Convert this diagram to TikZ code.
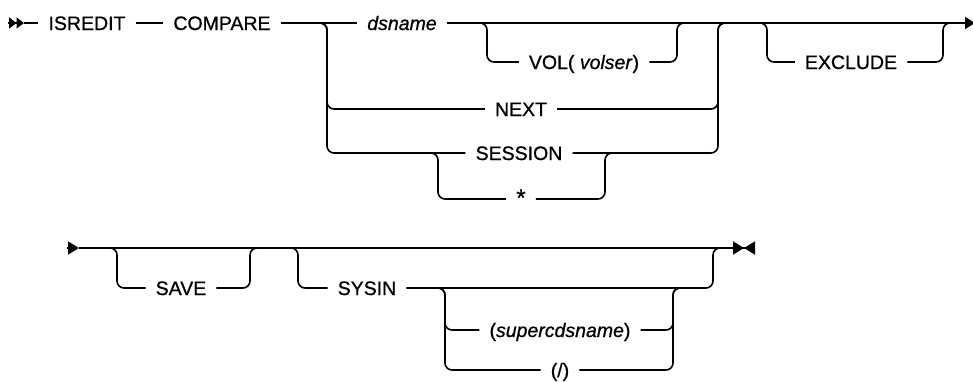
\documentclass[tikz,border=0pt]{standalone}
\usepackage{fontspec}
\setmainfont{Liberation Sans}[FakeBold=0.8]
\usetikzlibrary{arrows.meta}
\newcommand{\cmdfont}{\fontsize{19.5}{23}\selectfont}
\tikzset{
  cmd rail/.style={line width=1.6pt,rounded corners=7pt},
  cmd kw/.style={inner xsep=10pt,inner ysep=0pt,text height=14pt,text depth=0pt,font=\cmdfont},
  cmd var/.style={cmd kw,font=\cmdfont\itshape},
  cmd tip/.tip={Triangle[length=10pt,width=12pt]}
}

\begin{document}
\begin{tikzpicture}[x=1pt,y=-1pt]
  \useasboundingbox (0,0) rectangle (973,381);
  % first line
  \coordinate (r1s) at (8,23);
  \coordinate (r1a) at (24,23);
  \coordinate (r1e) at (975,23);
  \node[cmd kw] (isredit) at (87,23) {ISREDIT};
  \node[cmd kw] (compare) at (222,23) {COMPARE};
  \node[cmd var] (dsname) at (402,23) {dsname};
  \node[cmd kw] (vol) at (584,62) {VOL( \textit{volser})};
  \node[cmd kw] (next) at (521,109) {NEXT};
  \node[cmd kw] (session) at (519,153) {SESSION};
  \node[cmd kw,font=\fontsize{24}{26}\selectfont] (star) at (521,199) {*};
  \node[cmd kw] (exclude) at (851,62) {EXCLUDE};
  \coordinate (g1l) at (327,23);
  \coordinate (g1r) at (718,23);
  \coordinate (vl) at (487,23);
  \coordinate (vr) at (677,23);
  \coordinate (sl) at (438,153);
  \coordinate (sr) at (605,153);
  \coordinate (xl) at (767,23);
  \coordinate (xr) at (943,23);
  \draw[cmd rail,-{Triangle[length=7.5pt,width=11pt]Triangle[length=7.5pt,width=11pt]}] (r1s) -- (r1a);
  \draw[cmd rail] (r1a) -- (isredit) (isredit) -- (compare) (compare) -- (dsname);
  \draw[cmd rail,-{cmd tip}] (dsname) -- (r1e);
  \draw[cmd rail] (vol) -| (vl) -- ++(-10,0) (vol) -| (vr) -- ++(10,0);
  \draw[cmd rail] (next) -| (g1l) -- ++(-10,0) (next) -| (g1r) -- ++(10,0);
  \draw[cmd rail] (session) -| (g1l) -- ++(-10,0) (session) -| (g1r) -- ++(10,0);
  \draw[cmd rail] (star) -| (sl) -- ++(-10,0) (star) -| (sr) -- ++(10,0);
  \draw[cmd rail] (exclude) -| (xl) -- ++(-10,0) (exclude) -| (xr) -- ++(10,0);
  % second line
  \coordinate (r2s) at (67,248);
  \coordinate (r2a) at (79,248);
  \coordinate (r2e) at (755,248);
  \node[cmd kw] (save) at (181,288) {SAVE};
  \node[cmd kw] (sysin) at (367,288) {SYSIN};
  \node[cmd kw] (supercds) at (560,330) {(\textit{supercdsname})};
  \node[cmd kw] (slash) at (560,370) {(/)};
  \coordinate (al) at (117,248);
  \coordinate (ar) at (250,248);
  \coordinate (yl) at (298,248);
  \coordinate (yr) at (713,248);
  \coordinate (pl) at (445,288);
  \coordinate (pr) at (673,288);
  \draw[cmd rail,-{Triangle[length=11pt,width=13pt]}] (r2s) -- (r2a);
  \draw[cmd rail,-{Triangle[length=11pt,width=13pt]Triangle[length=11pt,width=13pt,reversed]}] (r2a) -- (r2e);
  \draw[cmd rail] (save) -| (al) -- ++(-10,0) (save) -| (ar) -- ++(10,0);
  \draw[cmd rail] (sysin) -| (yl) -- ++(-10,0) (sysin) -| (yr) -- ++(10,0);
  \draw[cmd rail] (supercds) -| (pl) -- ++(-10,0) (supercds) -| (pr) -- ++(10,0);
  \draw[cmd rail] (slash) -| (pl) -- ++(-10,0) (slash) -| (pr) -- ++(10,0);
\end{tikzpicture}
\end{document}
